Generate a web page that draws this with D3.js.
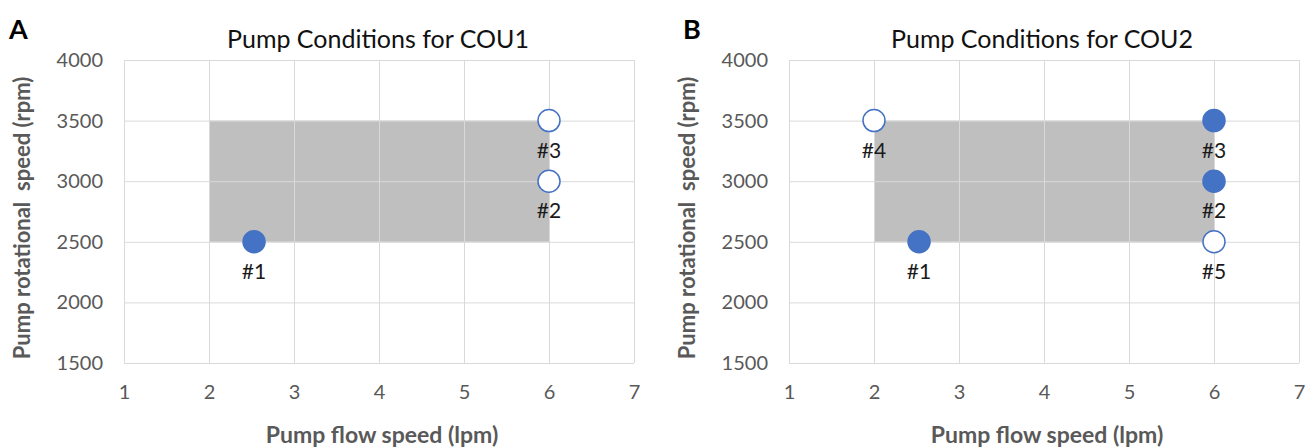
<!DOCTYPE html>
<html>
<head>
<meta charset="utf-8">
<script src="https://cdn.jsdelivr.net/npm/d3@7"></script>
<style>
  body { margin: 0; background: #fff; }
  svg { display: block; font-family: Lato, "Liberation Sans", Arial, sans-serif; }
</style>
</head>
<body>
<svg width="1311" height="448"></svg>
<script>
// ---- data ----
var xTicks = [1, 2, 3, 4, 5, 6, 7];
var yTicks = [1500, 2000, 2500, 3000, 3500, 4000];

var rangeFlow = [2, 6];        // grey operating window
var rangeRpm = [2500, 3500];

var cou1Labels = ["#1", "#2", "#3"];
var cou1Flow   = [2.53, 6, 6];
var cou1Rpm    = [2500, 3000, 3500];
var cou1Filled = [true, false, false];

var cou2Labels = ["#1", "#2", "#3", "#4", "#5"];
var cou2Flow   = [2.53, 6, 6, 2, 6];
var cou2Rpm    = [2500, 3000, 3500, 3500, 2500];
var cou2Filled = [true, true, true, false, false];

var svg = d3.select("svg");
var blue = "#4472c4", grid = "#d9d9d9", axisGrey = "#595959";

function panel(letter, title, labels, flow, rpm, filled, left, right, titleX, letterX, yTitleX){

    var top = 60, bottom = 363;

    var x = d3.scaleLinear().domain([1, 7]).range([left, right]);
    var y = d3.scaleLinear().domain([1500, 4000]).range([bottom, top]);

    var g = svg.append("g");

    // grey rectangle (drawn under the grid)
    g.append("rect")
        .attr("x", x(rangeFlow[0]))
        .attr("y", y(rangeRpm[1]))
        .attr("width", x(rangeFlow[1]) - x(rangeFlow[0]))
        .attr("height", y(rangeRpm[0]) - y(rangeRpm[1]))
        .attr("fill", "#bfbfbf");

    // gridlines
    g.append("g")
        .attr("transform", "translate(0," + bottom + ")")
        .call(d3.axisBottom(x).tickValues(xTicks).tickSize(-(bottom - top)).tickFormat(""))
        .call(function(a){ a.select(".domain").remove(); })
        .selectAll("line").attr("stroke", grid);

    g.append("g")
        .attr("transform", "translate(" + left + ",0)")
        .call(d3.axisLeft(y).tickValues(yTicks).tickSize(-(right - left)).tickFormat(""))
        .call(function(a){ a.select(".domain").remove(); })
        .selectAll("line").attr("stroke", grid);

    // tick labels
    g.append("g")
        .attr("transform", "translate(0," + bottom + ")")
        .call(d3.axisBottom(x).tickValues(xTicks).tickSize(0).tickPadding(22).tickFormat(d3.format("d")))
        .call(function(a){ a.select(".domain").remove(); })
        .selectAll("text")
        .attr("font-size", 20)
        .attr("font-family", "Lato, Liberation Sans, sans-serif")
        .attr("fill", axisGrey);

    g.append("g")
        .attr("transform", "translate(" + left + ",0)")
        .call(d3.axisLeft(y).tickValues(yTicks).tickSize(0).tickPadding(21).tickFormat(d3.format("d")))
        .call(function(a){ a.select(".domain").remove(); })
        .selectAll("text")
        .attr("font-size", 20)
        .attr("font-family", "Lato, Liberation Sans, sans-serif")
        .attr("fill", axisGrey);

    // points
    var pts = d3.range(labels.length);
    g.selectAll("circle.pt")
        .data(pts)
        .enter().append("circle")
        .attr("class", "pt")
        .attr("cx", function(i){ return x(flow[i]); })
        .attr("cy", function(i){ return y(rpm[i]); })
        .attr("r", 11)
        .attr("fill", function(i){ return filled[i] ? blue : "#fff"; })
        .attr("stroke", blue)
        .attr("stroke-width", 1.5);

    g.selectAll("text.lbl")
        .data(pts)
        .enter().append("text")
        .attr("class", "lbl")
        .attr("x", function(i){ return x(flow[i]); })
        .attr("y", function(i){ return y(rpm[i]) + 37; })
        .attr("text-anchor", "middle")
        .attr("font-size", 21)
        .attr("fill", "#1a1a1a")
        .text(function(i){ return labels[i]; });

    // titles
    svg.append("text")
        .attr("x", titleX).attr("y", 48)
        .attr("text-anchor", "middle")
        .attr("font-size", 25)
        .attr("fill", "#111")
        .text(title);

    svg.append("text")
        .attr("x", letterX).attr("y", 39)
        .attr("font-size", 27)
        .attr("font-weight", "bold")
        .attr("fill", "#000")
        .text(letter);

    svg.append("text")
        .attr("x", (left + right) / 2 + 3).attr("y", 443)
        .attr("text-anchor", "middle")
        .attr("font-size", 23)
        .attr("font-weight", "bold")
        .attr("fill", axisGrey)
        .text("Pump flow speed (lpm)");

    svg.append("text")
        .attr("transform", "translate(" + yTitleX + "," + 218 + ") rotate(-90)")
        .attr("text-anchor", "middle")
        .attr("font-size", 22)
        .attr("font-weight", "bold")
        .attr("fill", axisGrey)
        .attr("xml:space", "preserve")
        .style("white-space", "pre")
        .text("Pump rotational  speed (rpm)");
}

panel("A", "Pump Conditions for COU1", cou1Labels, cou1Flow, cou1Rpm, cou1Filled, 124, 634, 378, 9, 30);
panel("B", "Pump Conditions for COU2", cou2Labels, cou2Flow, cou2Rpm, cou2Filled, 789, 1299, 1042, 683, 695);
</script>
</body>
</html>
